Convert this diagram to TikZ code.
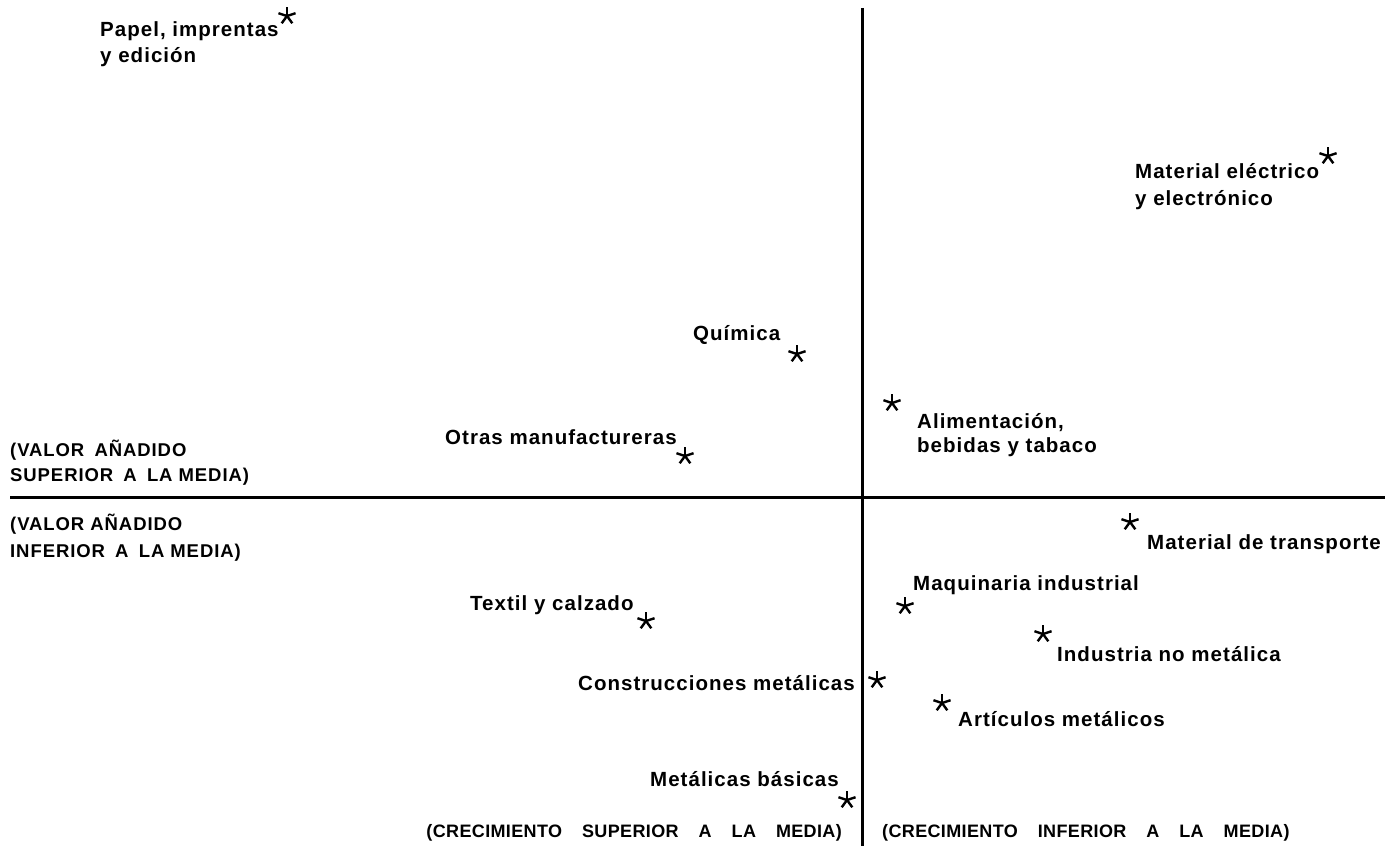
\documentclass[tikz,border=0pt]{standalone}
\usepackage{fontspec}
\newfontfamily\lab{Liberation Sans}[LetterSpace=5]
\newfontfamily\capf{Liberation Sans}[LetterSpace=2]
\newcommand\wgap{\hspace{0.55em}}
\newcommand\bgap{\hspace{20pt}}
\begin{document}
\begin{tikzpicture}[x=1pt,y=-1pt,
  lbl/.style={anchor=base west,inner sep=0pt,font=\lab\bfseries\fontsize{20.5}{24}\selectfont},
  qlbl/.style={anchor=base west,inner sep=0pt,font=\lab\bfseries\fontsize{18.5}{22}\selectfont},
  blbl/.style={inner sep=0pt,font=\capf\bfseries\fontsize{18}{20}\selectfont},
  axis/.style={line width=3pt},
  starline/.style={line width=2.4pt}]
\useasboundingbox (0,0) rectangle (1399,858);
% axes
\coordinate (vt) at (862,8);
\coordinate (vb) at (862,846);
\coordinate (hl) at (10,497);
\coordinate (hr) at (1385,497);
\draw[axis] (vt) -- (vb);
\draw[axis] (hl) -- (hr);
% stars
\foreach \n/\x/\y in {s1/287/16, s2/1328/156, s3/797/354, s4/892/403, s5/685/456,
  s6/1130/522, s7/905/606, s8/646/621, s9/1043/634, s10/877/680, s11/942/703, s12/847/800}{
  \coordinate (\n) at (\x,\y);
  \foreach \a in {90,18,162,234,306}
    \draw[starline] (\n) -- ++(\a:9pt);
}
% labels
\node[lbl] (t1a) at (100,37) {Papel, imprentas};
\node[lbl] (t1b) at (100,63) {y edición};
\node[lbl] (t2a) at (1135,179) {Material eléctrico};
\node[lbl] (t2b) at (1135,206) {y electrónico};
\node[lbl] (t3) at (693,340) {Química};
\node[lbl] (t4a) at (917,428) {Alimentación,};
\node[lbl] (t4b) at (917,452) {bebidas y tabaco};
\node[lbl] (t5) at (445,444) {Otras manufactureras};
\node[qlbl] (q1a) at (10,456) {(VALOR\wgap AÑADIDO};
\node[qlbl] (q1b) at (10,481) {SUPERIOR\wgap A\wgap LA MEDIA)};
\node[qlbl] (q2a) at (10,530) {(VALOR AÑADIDO};
\node[qlbl] (q2b) at (10,557) {INFERIOR\wgap A\wgap LA MEDIA)};
\node[lbl] (t6) at (1147,549) {Material de transporte};
\node[lbl] (t7) at (913,590) {Maquinaria industrial};
\node[lbl] (t8) at (470,610) {Textil y calzado};
\node[lbl] (t9) at (1057,661) {Industria no metálica};
\node[lbl] (t10) at (578,690) {Construcciones metálicas};
\node[lbl] (t11) at (958,726) {Artículos metálicos};
\node[lbl] (t12) at (650,786) {Metálicas básicas};
\node[blbl,anchor=base east] (b1) at (842,837) {(CRECIMIENTO\bgap SUPERIOR\bgap A\bgap LA\bgap MEDIA)};
\node[blbl,anchor=base west] (b2) at (882,837) {(CRECIMIENTO\bgap INFERIOR\bgap A\bgap LA\bgap MEDIA)};
\end{tikzpicture}
\end{document}
